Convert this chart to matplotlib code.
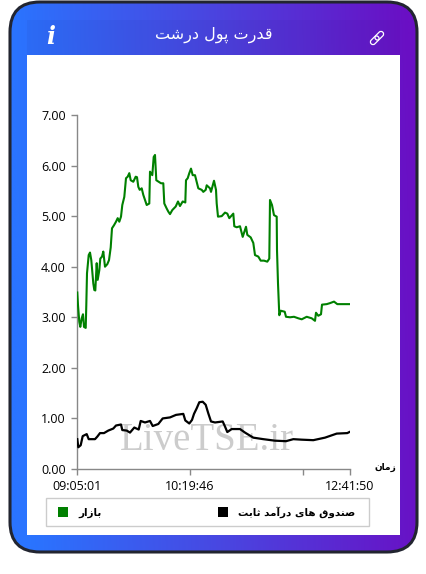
import numpy as np
import matplotlib
matplotlib.use('Agg')
import matplotlib.pyplot as plt
from matplotlib.patches import FancyBboxPatch, Rectangle
from matplotlib.colors import LinearSegmentedColormap
from matplotlib.transforms import Affine2D

title = 'قدرت پول درشت'
x_title = 'زمان'
green_name = 'بازار'
black_name = 'صندوق های درآمد ثابت'
watermark = 'LiveTSE.ir'

y_ticks = [0, 1, 2, 3, 4, 5, 6, 7]
x_ticks = [0, 113, 226, 273]
x_labels = ['09:05:01', '10:19:46', '', '12:41:50']

green_x = [0.3, 1, 2.3, 3.3, 4.7, 6, 7, 8.7, 9.3, 10, 11.7, 13, 14.3, 15.3, 16.3, 17.3, 18.3, 19.7, 20.7, 22.3,
           23.3, 25, 26.3, 28, 30.3, 32, 33.7, 35, 37, 39, 40.7, 42.3, 44, 45.3, 47.3, 49, 50.7, 52.3, 53.7, 56.3,
           58.7, 60, 61.3, 62.7, 64.7, 66.3, 68, 69.7, 72.3, 73, 75.3, 76.7, 78, 79.3, 81.7, 84, 86.3, 87.3, 89.7, 91.3,
           93, 95.3, 98.7, 101, 103, 105.7, 108.3, 109, 110.7, 112.3, 114, 115.7, 118, 121.3, 124.7, 126.3, 128.7, 129.7, 133,
           134, 137, 139, 139.7, 141, 144.7, 148, 150.3, 152.3, 156.3, 157.3, 159.7, 163, 165.7, 169, 170.3, 173.7, 176.3,
           178, 181.3, 183.7, 187, 190.3, 192.3, 193, 195, 197, 199.7, 200, 201, 202.3, 203.7, 207.7, 209, 213, 217, 221.3,
           224.7, 229.7, 234.7, 238, 239, 241.3, 244, 245, 249.7, 253, 257, 260.3, 272.3]
green_y = [3.49, 3.24, 2.91, 2.81, 2.98, 3.06, 2.81, 2.79, 3.24, 3.87, 4.23, 4.28, 4.13, 3.90, 3.67, 3.54, 3.53, 4.07, 3.74, 3.93,
           4.16, 4.20, 4.30, 4.00, 4.05, 4.13, 4.38, 4.76, 4.82, 4.89, 4.96, 4.89, 4.99, 5.22, 5.38, 5.75, 5.78, 5.85, 5.71, 5.68,
           5.78, 5.77, 5.58, 5.52, 5.55, 5.42, 5.32, 5.22, 5.25, 5.88, 5.81, 6.17, 6.21, 5.71, 5.68, 5.65, 5.65, 5.25, 5.15, 5.09,
           5.04, 5.12, 5.19, 5.29, 5.20, 5.29, 5.27, 5.71, 5.75, 5.85, 5.94, 5.81, 5.81, 5.55, 5.52, 5.48, 5.52, 5.61, 5.55,
           5.48, 5.70, 5.52, 5.25, 4.99, 5.00, 5.07, 5.05, 4.96, 5.05, 4.80, 4.78, 4.80, 4.59, 4.79, 4.63, 4.58, 4.47,
           4.23, 4.20, 4.12, 4.12, 4.10, 4.16, 5.32, 5.22, 5.02, 4.99, 4.33, 3.67, 3.04, 3.13, 3.11, 3.01, 3.00, 3.01, 2.98,
           2.96, 3.01, 2.98, 2.93, 3.09, 3.03, 3.06, 3.25, 3.26, 3.28, 3.31, 3.26, 3.26]

black_x = [0.3, 1.3, 3.7, 5.7, 9.7, 11.7, 14.7, 18, 20.3, 23, 27, 31.3, 36.3, 39, 44, 45.3, 49.7, 53, 57.3, 61.7,
           63.7, 68, 73, 75.7, 81.3, 85.7, 93, 99, 106.3, 108.3, 112.3, 115, 117, 119.7, 122.3, 125.7, 128.7, 131.3, 134,
           138, 145.7, 148, 150.3, 154.7, 163, 168, 176.3, 186.3, 198, 209, 216.3, 224.7, 236.3, 248, 259.7, 270.3, 272.3]
black_y = [0.59, 0.43, 0.47, 0.65, 0.69, 0.59, 0.59, 0.59, 0.64, 0.71, 0.71, 0.76, 0.80, 0.86, 0.88, 0.77, 0.76, 0.72, 0.82, 0.78,
           0.95, 0.92, 0.95, 0.85, 0.89, 1.00, 1.02, 1.07, 1.09, 0.96, 0.90, 0.97, 1.09, 1.20, 1.32, 1.33, 1.27, 1.10, 0.94,
           0.92, 0.94, 0.84, 0.73, 0.79, 0.79, 0.72, 0.62, 0.59, 0.56, 0.55, 0.59, 0.58, 0.57, 0.62, 0.70, 0.71, 0.73]

# isolated, final, initial, medial
forms = {
    'ا': (0xFE8D, 0xFE8E), 'آ': (0xFE81, 0xFE82), 'د': (0xFEA9, 0xFEAA), 'ر': (0xFEAD, 0xFEAE),
    'ز': (0xFEAF, 0xFEB0), 'و': (0xFEED, 0xFEEE),
    'ب': (0xFE8F, 0xFE90, 0xFE91, 0xFE92), 'پ': (0xFB56, 0xFB57, 0xFB58, 0xFB59),
    'ت': (0xFE95, 0xFE96, 0xFE97, 0xFE98), 'ث': (0xFE99, 0xFE9A, 0xFE9B, 0xFE9C),
    'ش': (0xFEB5, 0xFEB6, 0xFEB7, 0xFEB8), 'ص': (0xFEB9, 0xFEBA, 0xFEBB, 0xFEBC),
    'ق': (0xFED5, 0xFED6, 0xFED7, 0xFED8), 'ل': (0xFEDD, 0xFEDE, 0xFEDF, 0xFEE0),
    'م': (0xFEE1, 0xFEE2, 0xFEE3, 0xFEE4), 'ن': (0xFEE5, 0xFEE6, 0xFEE7, 0xFEE8),
    'ه': (0xFEE9, 0xFEEA, 0xFEEB, 0xFEEC), 'ی': (0xFBFC, 0xFBFD, 0xFBFE, 0xFBFF),
}


def shape(text):
    # matplotlib has no arabic shaping, pick the joined forms and reverse
    out = []
    for i, c in enumerate(text):
        if c not in forms:
            out.append(c)
            continue
        prev_joins = i > 0 and text[i - 1] in forms and len(forms[text[i - 1]]) == 4
        next_joins = i < len(text) - 1 and text[i + 1] in forms and len(forms[c]) == 4
        if prev_joins and next_joins:
            k = 3
        elif next_joins:
            k = 2
        elif prev_joins:
            k = 1
        else:
            k = 0
        out.append(chr(forms[c][k]))
    return ''.join(reversed(out))


W, H = 427, 574
fig = plt.figure(figsize=(W / 100, H / 100), dpi=100, facecolor='white')

bg = fig.add_axes([0, 0, 1, 1], zorder=0)
bg.set_xlim(0, W)
bg.set_ylim(H, 0)
bg.axis('off')

grad = LinearSegmentedColormap.from_list('card', ['#2a74ff', '#4a45e0', '#6a0fc4'])
gx, gy = np.meshgrid(np.linspace(0, 1, 300), np.linspace(0, 1, 300))
img = bg.imshow(np.clip(gx * 1.02 - 0.05 * gy, 0, 1), cmap=grad, extent=(10, 417, 552, 2), aspect='auto', zorder=1)
card = FancyBboxPatch((10, 2), 407, 550, boxstyle='round,pad=0,rounding_size=30', fc='none', ec='#222530', lw=2.2, zorder=3)
bg.add_patch(card)
img.set_clip_path(card)
bg.set_xlim(0, W)
bg.set_ylim(H, 0)
bg.add_patch(Rectangle((27, 20), 373, 35, fc='#1a1a60', ec='none', alpha=0.05, zorder=2))
bg.add_patch(Rectangle((27, 55), 373, 480, fc='white', ec='none', zorder=2))

bg.text(214, 35, shape(title), color='white', fontsize=11.5, family='DejaVu Sans', ha='center', va='center', zorder=4)
bg.text(51, 37, 'i', color='white', fontsize=17, family='DejaVu Serif', style='italic', weight='bold', ha='center', va='center', zorder=4)

# link icon, two rounded links at 45 degrees
for dx in (-3.2, 3.2):
    rot = Affine2D().translate(dx, 0).rotate_deg(-45).translate(377, 38) + bg.transData
    bg.add_patch(FancyBboxPatch((-5, -2.6), 10, 5.2, boxstyle='round,pad=0,rounding_size=2.6', fc='none', ec='white',
                                lw=0.9, transform=rot, zorder=4))

# legend
bg.add_patch(Rectangle((46.5, 497.5), 323, 28.5, fc='white', ec='#cccccc', lw=1, zorder=3))
bg.add_patch(Rectangle((58, 507), 10, 10, fc='green', ec='none', zorder=4))
bg.add_patch(Rectangle((218, 507), 10, 10, fc='black', ec='none', zorder=4))
bg.text(78, 512.5, shape(green_name), fontsize=7.5, weight='bold', family='DejaVu Sans', ha='left', va='center', zorder=4)
bg.text(238, 512.5, shape(black_name), fontsize=7.5, weight='bold', family='DejaVu Sans', ha='left', va='center', zorder=4)
bg.text(385, 467, shape(x_title), fontsize=6.5, weight='bold', family='DejaVu Sans', ha='center', va='center', zorder=4)

ax = fig.add_axes([77 / W, 1 - 469 / H, 273 / W, 354 / H], zorder=1)
ax.patch.set_alpha(0)
ax.set_xlim(0, 273)
ax.set_ylim(0, 7)
for s in ('top', 'right'):
    ax.spines[s].set_visible(False)
for s in ('left', 'bottom'):
    ax.spines[s].set_color('#888888')
    ax.spines[s].set_linewidth(1)

ax.text(0.475, 0.028, watermark, transform=ax.transAxes, fontsize=28, family='Liberation Serif', color='#cccccc',
        ha='center', va='bottom', zorder=1)
ax.plot(green_x, green_y, color='green', lw=1.5, zorder=3)
ax.plot(black_x, black_y, color='black', lw=1.6, zorder=3)

ax.set_yticks(y_ticks)
ax.set_yticklabels(['%.2f' % v for v in y_ticks])
ax.set_xticks(x_ticks)
ax.set_xticklabels(x_labels)
ax.tick_params(axis='both', length=4, width=1, color='#888888', labelsize=9, labelcolor='black', pad=4)
for lab in ax.get_xticklabels() + ax.get_yticklabels():
    lab.set_family('Open Sans')

fig.savefig('out.png', dpi=100)
